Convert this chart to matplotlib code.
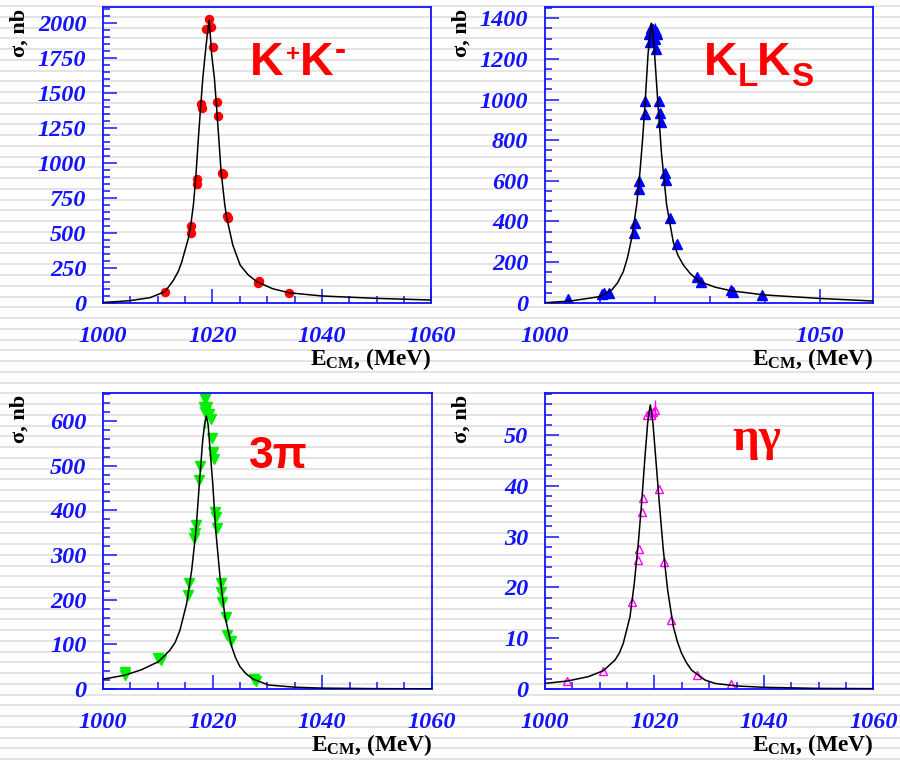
import matplotlib
matplotlib.use('Agg')
import matplotlib.pyplot as plt
import numpy as np
from matplotlib.font_manager import FontProperties

plt.rcParams['mathtext.fontset'] = 'custom'
plt.rcParams['mathtext.rm'] = 'Liberation Serif:bold'
plt.rcParams['mathtext.sf'] = 'Liberation Sans:bold'
plt.rcParams['mathtext.it'] = 'Liberation Serif:bold:italic'
plt.rcParams['mathtext.bf'] = 'Liberation Serif:bold'

# ---------------- data ----------------
# Panel 1: K+K-
kk_E = [1011.4, 1016.04, 1016.1, 1017.13, 1017.19, 1017.99, 1018.11, 1018.84, 1019.33, 1019.82,
        1020.13, 1020.79, 1021.03, 1021.7, 1021.89, 1022.74, 1022.86, 1028.33, 1028.57, 1034.04]
kk_sig = [76, 500, 550, 848, 886, 1417, 1388, 1955, 2026, 1971,
          1829, 1434, 1334, 929, 917, 619, 607, 138, 155, 67]
kk_fitE = [1000, 1003, 1005, 1008.6, 1011.34, 1012.87, 1013.78, 1014.39, 1015.6, 1016.04, 1016.52,
           1016.95, 1017.43, 1017.87, 1018.24, 1018.66, 1019.02, 1019.39, 1019.63, 1019.87,
           1020.36, 1020.73, 1021.16, 1021.58, 1022.26, 1022.63, 1023.72, 1025.06, 1026.5,
           1028.1, 1031.0, 1034.0, 1040, 1050, 1060]
kk_fit = [2, 9, 15, 36, 79, 160, 225, 290, 460, 555, 698,
          889, 1174, 1412, 1603, 1769, 1900, 2019, 1900, 1769,
          1603, 1412, 1174, 936, 698, 603, 412, 269, 200,
          150, 100, 71, 48, 31, 19]

# Panel 2: KLKS
ks_E = [1004.24, 1010.3, 1010.7, 1011.6, 1016.12, 1016.42, 1017.09, 1017.15, 1018.12, 1018.18,
        1018.97, 1019.09, 1019.3, 1019.55, 1020.06, 1020.1, 1020.2, 1020.3, 1020.73, 1020.97,
        1021.03, 1021.82, 1021.94, 1022.73, 1024.0, 1027.7, 1028.3, 1033.8, 1034.1, 1039.4]
ks_sig = [18, 43, 49, 49, 342, 391, 560, 599, 929, 993,
          1322, 1285, 1350, 1345, 1300, 1338, 1250, 1325, 993, 936,
          888, 640, 604, 419, 288, 125, 103, 62, 54, 39]
ks_err = [0, 0, 0, 0, 0, 0, 0, 0, 0, 0,
          0, 0, 0, 0, 75, 0, 0, 0, 0, 0,
          0, 0, 0, 0, 0, 0, 0, 0, 0, 0]
ks_fitE = [1000, 1004.55, 1010.0, 1012.12, 1013.2, 1014.24, 1015.0, 1015.76, 1016.67, 1017.27,
           1017.76, 1018.18, 1018.73, 1019.03, 1019.33, 1019.7, 1019.94, 1020.55, 1021.21,
           1022.12, 1023.33, 1024.2, 1025.15, 1026.36, 1028, 1031, 1034, 1040, 1050, 1059.7]
ks_fit = [0, 8, 30, 62, 98, 153, 222, 317, 481, 645,
          809, 973, 1220, 1302, 1376, 1302, 1220, 973, 727,
          481, 298, 232, 186, 145, 105, 76, 58, 38, 21, 8]

# Panel 3: 3pi
pi_E = [1003.95, 1003.95, 1010.1, 1010.6, 1015.52, 1015.76, 1016.68, 1016.86, 1016.98, 1017.52,
        1017.71, 1018.5, 1018.68, 1018.68, 1019.04, 1019.29, 1019.77, 1019.9, 1020.08, 1020.26,
        1020.44, 1020.69, 1020.75, 1021.48, 1021.48, 1021.72, 1022.45, 1022.58, 1023.31, 1027.5, 1027.9]
pi_sig = [39, 31, 69, 65, 210, 237, 337, 349, 367, 469,
          499, 632, 649, 621, 632, 616, 604, 561, 531, 516,
          397, 386, 360, 237, 218, 195, 162, 121, 108, 22, 19]
pi_err = [0, 0, 0, 0, 0, 0, 0, 0, 0, 0,
          0, 0, 0, 37, 0, 0, 0, 0, 0, 0,
          0, 0, 0, 0, 0, 0, 0, 0, 0, 0, 0]
pi_fitE = [1000, 1004.0, 1007.0, 1010.1, 1012.23, 1013.2, 1014.06, 1015.28, 1016.19, 1016.98,
           1017.59, 1018.2, 1018.56, 1018.86, 1019.17, 1019.41, 1020.03, 1020.57, 1021.36,
           1022.27, 1023.49, 1024.2, 1025.0, 1026.1, 1027.44, 1030.18, 1035, 1040, 1050, 1060]
pi_fit = [22, 31, 43, 61, 87, 105, 132, 192, 266, 356,
          460, 557, 594, 611, 594, 557, 460, 356, 251,
          162, 95, 70, 50, 34, 22, 9, 4, 2, 0.8, 0.4]

# Panel 4: eta gamma
eg_E = [1004.08, 1010.66, 1015.96, 1016.99, 1017.17, 1017.72, 1017.9, 1018.6, 1019.1, 1019.4,
        1019.8, 1020.1, 1020.83, 1021.68, 1022.96, 1027.77, 1033.93]
eg_sig = [1.57, 3.6, 17.2, 25.3, 27.6, 34.8, 37.5, 54.0, 54.6, 54.0,
          54.6, 55.0, 39.4, 24.9, 13.6, 2.76, 0.98]
eg_err = [0, 0, 0, 0, 0, 0, 0, 0, 0, 0,
          0, 1.8, 0, 0, 0, 0, 0]
eg_fitE = [1000, 1004.08, 1007.92, 1010.66, 1012.79, 1013.6, 1014.31, 1015.53, 1016.32, 1017.05,
           1017.66, 1018.27, 1018.76, 1019.0, 1019.24, 1019.49, 1019.73, 1020.22, 1020.89,
           1021.62, 1022.41, 1023.45, 1024.2, 1024.97, 1025.9, 1026.8, 1029.23, 1031.06,
           1035, 1040, 1050, 1060]
eg_fit = [1.1, 1.57, 2.43, 3.6, 5.7, 7.1, 9.0, 14.2, 20.8, 28.7,
          36.6, 45.7, 52.3, 54.3, 55.9, 54.3, 52.3, 45.7, 36.6,
          27.4, 19.5, 12.3, 9.3, 7.0, 5.1, 3.7, 1.77, 1.1,
          0.6, 0.33, 0.12, 0.07]

# tick labels
x_ticks_a = [1000, 1020, 1040, 1060]
x_labels_a = ['1000', '1020', '1040', '1060']
x_minor_a = [1005, 1010, 1015, 1025, 1030, 1035, 1045, 1050, 1055]
x_ticks_b = [1000, 1050]
x_labels_b = ['1000', '1050']
x_minor_b = [1010, 1020, 1030, 1040]
y1_ticks = [0, 250, 500, 750, 1000, 1250, 1500, 1750, 2000]
y2_ticks = [0, 200, 400, 600, 800, 1000, 1200, 1400]
y3_ticks = [0, 100, 200, 300, 400, 500, 600]
y4_ticks = [0, 10, 20, 30, 40, 50]

# ---------------- figure ----------------
W, H = 900, 761
fig = plt.figure(figsize=(W / 100, H / 100), dpi=100)
fig.patch.set_facecolor('white')

bg = fig.add_axes([0, 0, 1, 1], zorder=-10)
bg.set_xlim(0, W)
bg.set_ylim(H, 0)
bg.axis('off')
for yy in np.arange(6, H, 10.76):
    bg.axhline(yy, color='#dedede', lw=1.15)

BLUE = '#1414ff'
tick_fp = FontProperties(family='Liberation Serif', weight='bold', style='italic', size=17.5)


def make_ax(l, t, r, b, xlim, ylim, xt, xl, xm, yt, ym_step):
    ax = fig.add_axes([l / W, 1 - b / H, (r - l) / W, (b - t) / H], zorder=1)
    ax.patch.set_alpha(0)
    for s in ax.spines.values():
        s.set_color(BLUE)
        s.set_linewidth(1.3)
    ax.set_xlim(*xlim)
    ax.set_ylim(*ylim)
    ax.set_xticks(xt, labels=xl, fontproperties=tick_fp, color=BLUE)
    ax.set_xticks(xm, minor=True)
    ax.set_yticks(yt, labels=[str(v) for v in yt], fontproperties=tick_fp, color=BLUE)
    ax.set_yticks(np.arange(0, ylim[1], ym_step), minor=True)
    ax.tick_params(which='both', direction='in', colors=BLUE, width=1.1,
                   top=False, right=False)
    ax.tick_params(which='major', length=10)
    ax.tick_params(which='minor', length=4.8)
    ax.tick_params(axis='x', which='major', pad=16.5)
    ax.tick_params(axis='y', which='major', pad=12)
    ax.annotate('σ, nb', xy=(0, 1), xycoords='axes fraction', xytext=(-60, -1.2),
                textcoords='offset points', rotation=90, ha='center', va='top',
                fontfamily='Liberation Serif', fontweight='bold', fontsize=16, color='black')
    ax.annotate(r'E$_{\mathrm{CM}}$, (MeV)', xy=(1, 0), xycoords='axes fraction',
                xytext=(0, -44.6), textcoords='offset points', ha='right', va='baseline',
                fontfamily='Liberation Serif', fontweight='bold',
                fontsize=16.8, color='black')
    return ax


ax1 = make_ax(103, 7.3, 431.3, 302.7, (1000, 1060), (0, 2110), x_ticks_a, x_labels_a, x_minor_a, y1_ticks, 50)
ax2 = make_ax(545, 7.3, 873.3, 302.7, (1000, 1059.7), (0, 1454), x_ticks_b, x_labels_b, x_minor_b, y2_ticks, 50)
ax3 = make_ax(103, 393.3, 431.7, 689, (1000, 1060), (0, 662), x_ticks_a, x_labels_a, x_minor_a, y3_ticks, 20)
ax4 = make_ax(545, 393.3, 873.3, 689, (1000, 1060), (0, 58.2), x_ticks_a, x_labels_a, x_minor_a, y4_ticks, 2)

# Panel 1
ax1.plot(kk_E, kk_sig, 'o', ms=5.8, color='#ff0000', mec='#ff0000', zorder=2)
ax1.plot(kk_fitE, kk_fit, '-', color='black', lw=1.1, zorder=3)
# Panel 2
ax2.errorbar(ks_E, ks_sig, yerr=ks_err, fmt='^', ms=6.5, color='#0000ff', ecolor='#0000ff',
             elinewidth=1, capsize=0, zorder=2)
ax2.plot(ks_fitE, ks_fit, '-', color='black', lw=1.1, zorder=3)
# Panel 3
ax3.errorbar(pi_E, pi_sig, yerr=pi_err, fmt='v', ms=6.5, color='#00ee00', ecolor='#00ee00',
             elinewidth=1, capsize=0, zorder=2)
ax3.plot(pi_fitE, pi_fit, '-', color='black', lw=1.1, zorder=3)
# Panel 4
ax4.errorbar(eg_E, eg_sig, yerr=eg_err, fmt='^', ms=5.5, mfc='none', mec='#ff00ff', mew=1.0,
             ecolor='#ff00ff', elinewidth=1, capsize=0, zorder=2)
ax4.plot(eg_fitE, eg_fit, '-', color='black', lw=1.1, zorder=3)


# Titles (composed pieces, positions in pixels)
def ftext(x, y, s, **kw):
    fig.text(x / W, 1 - y / H, s, ha='left', va='baseline', color='red', **kw)


sans_b = dict(fontfamily='Liberation Sans', fontweight='bold')
ftext(250, 75, 'K', fontsize=33.5, **sans_b)
ftext(286, 61, '+', fontsize=17.5, **sans_b)
ftext(300, 75, 'K', fontsize=33.5, **sans_b)
ftext(335, 60, '-', fontsize=24, **sans_b)

ftext(704, 75, 'K', fontsize=33.5, **sans_b)
ftext(738, 86, 'L', fontsize=24, **sans_b)
ftext(757, 75, 'K', fontsize=33.5, **sans_b)
ftext(791, 86, 'S', fontsize=24, **sans_b)

ftext(249, 468.3, '3π', fontsize=32, **sans_b)
ftext(732, 450, 'ηγ', fontfamily='Liberation Serif', fontweight='bold', fontsize=34)

fig.savefig('out.png', dpi=100)
